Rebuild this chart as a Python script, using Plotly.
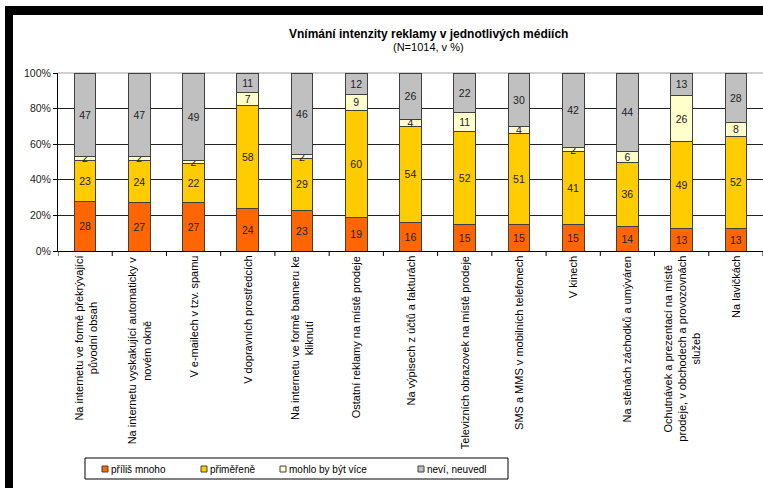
import plotly.graph_objects as go

categories = [
    "Na internetu ve formě překrývající<br>původní obsah",
    "Na internetu vyskakující automaticky v<br>novém okně",
    "V e-mailech v tzv. spamu",
    "V dopravních prostředcích",
    "Na internetu ve formě banneru ke<br>kliknutí",
    "Ostatní reklamy na místě prodeje",
    "Na výpisech z účtů a fakturách",
    "Televizních obrazovek na místě prodeje",
    "SMS a MMS v mobilních telefonech",
    "V kinech",
    "Na stěnách záchodků a umýváren",
    "Ochutnávek a prezentací na místě<br>prodeje, v obchodech a provozovnách<br>služeb",
    "Na lavičkách",
]
series_names = ["příliš mnoho", "přiměřeně", "mohlo by být více", "neví, neuvedl"]
too_much = [28, 27, 27, 24, 23, 19, 16, 15, 15, 15, 14, 13, 13]
adequate = [23, 24, 22, 58, 29, 60, 54, 52, 51, 41, 36, 49, 52]
could_more = [2, 2, 2, 7, 2, 9, 4, 11, 4, 2, 6, 26, 8]
dont_know = [47, 47, 49, 11, 46, 12, 26, 22, 30, 42, 44, 13, 28]
y_ticks = [0, 20, 40, 60, 80, 100]
y_tick_labels = ["0%", "20%", "40%", "60%", "80%", "100%"]
title = "Vnímání intenzity reklamy v jednotlivých médiích"
subtitle = "(N=1014, v %)"

colors = ["#FF6600", "#FFCC00", "#FFFFCC", "#C0C0C0"]
FONT = "Liberation Sans, Arial, sans-serif"

W, H = 763, 488
L, R, T, B = 58, 0, 73, 237
PW = W - L - R
PH = H - T - B


def px(x):
    return (x - L) / PW


def py(y):
    return 1 - (y - T) / PH


xs = list(range(len(categories)))
boundaries = [i - 0.5 for i in range(len(categories) + 1)]
fig = go.Figure()
for name, vals, col in zip(series_names, [too_much, adequate, could_more, dont_know], colors):
    fig.add_trace(go.Bar(
        x=xs, y=vals, name=name, text=[str(v) for v in vals],
        textposition="inside", insidetextanchor="middle", constraintext="none",
        textangle=0,
        insidetextfont=dict(family=FONT, size=10.5, color="#222222"),
        marker=dict(color=col, line=dict(color="#404040", width=1)),
        showlegend=False, hoverinfo="skip",
    ))

shapes = []
annotations = []
# black frame (left and top)
shapes.append(dict(type="rect", xref="paper", yref="paper", x0=px(5), x1=px(13),
                   y0=py(488), y1=py(6), fillcolor="black", line=dict(width=0), layer="above"))
shapes.append(dict(type="rect", xref="paper", yref="paper", x0=px(5), x1=px(763),
                   y0=py(15), y1=py(6), fillcolor="black", line=dict(width=0), layer="above"))
# top plot-area border (gray)
shapes.append(dict(type="line", xref="paper", yref="paper", x0=0, x1=1, y0=1, y1=1,
                   line=dict(color="#A0A0A0", width=1), layer="between"))
# x-axis tick marks at category boundaries
for b in boundaries:
    shapes.append(dict(type="line", xref="x", yref="paper", x0=b, x1=b,
                       y0=0, y1=py(256), line=dict(color="#000", width=1), layer="above"))

# titles
annotations.append(dict(text="<b>" + title + "</b>", xref="paper", yref="paper",
                        x=px(428), y=py(34), xanchor="center", yanchor="middle",
                        showarrow=False, font=dict(family=FONT, size=12, color="#000")))
annotations.append(dict(text=subtitle, xref="paper", yref="paper",
                        x=px(428), y=py(47), xanchor="center", yanchor="middle",
                        showarrow=False, font=dict(family=FONT, size=11, color="#000")))

# category labels (rotated, lines centred as in the original)
for i, c in enumerate(categories):
    annotations.append(dict(text=c, xref="x", yref="paper", x=xs[i], y=py(255),
                            xanchor="center", yanchor="top", textangle=-90, align="center",
                            showarrow=False, borderwidth=0, bgcolor="rgba(0,0,0,0)",
                            bordercolor="rgba(0,0,0,0)",
                            font=dict(family=FONT, size=11, color="#000")))

# custom legend
shapes.append(dict(type="rect", xref="paper", yref="paper", x0=px(85), x1=px(508),
                   y0=py(479), y1=py(458), fillcolor="white",
                   line=dict(color="#000", width=1), layer="above"))
leg_x = [105, 204, 283, 421]
for name, col, lx in zip(series_names, colors, leg_x):
    shapes.append(dict(type="rect", xref="paper", yref="paper", x0=px(lx - 3), x1=px(lx + 3),
                       y0=py(472), y1=py(466), fillcolor=col,
                       line=dict(color="#404040", width=1), layer="above"))
    annotations.append(dict(text=name, xref="paper", yref="paper", x=px(lx + 4), y=py(469),
                            xanchor="left", yanchor="middle", showarrow=False,
                            font=dict(family=FONT, size=10, color="#000")))

fig.update_layout(
    width=W, height=H, autosize=False,
    margin=dict(l=L, r=R, t=T, b=B, pad=0),
    paper_bgcolor="white", plot_bgcolor="white",
    barmode="stack", barnorm="percent", bargap=0.6,
    showlegend=False,
    shapes=shapes, annotations=annotations,
    xaxis=dict(type="linear", range=[-0.5, len(categories) - 0.5],
               showticklabels=False, ticks="",
               showline=True, linecolor="#000", linewidth=1,
               showgrid=False, zeroline=False, fixedrange=True),
    yaxis=dict(range=[0, 100], tickmode="array", tickvals=y_ticks, ticktext=y_tick_labels,
               showline=True, linecolor="#000", linewidth=1,
               ticks="outside", ticklen=4, tickcolor="#000",
               showgrid=True, gridcolor="#222", gridwidth=1, zeroline=False,
               tickfont=dict(family=FONT, size=10.5, color="#222")),
    font=dict(family=FONT),
)

fig.write_html("out.html")
